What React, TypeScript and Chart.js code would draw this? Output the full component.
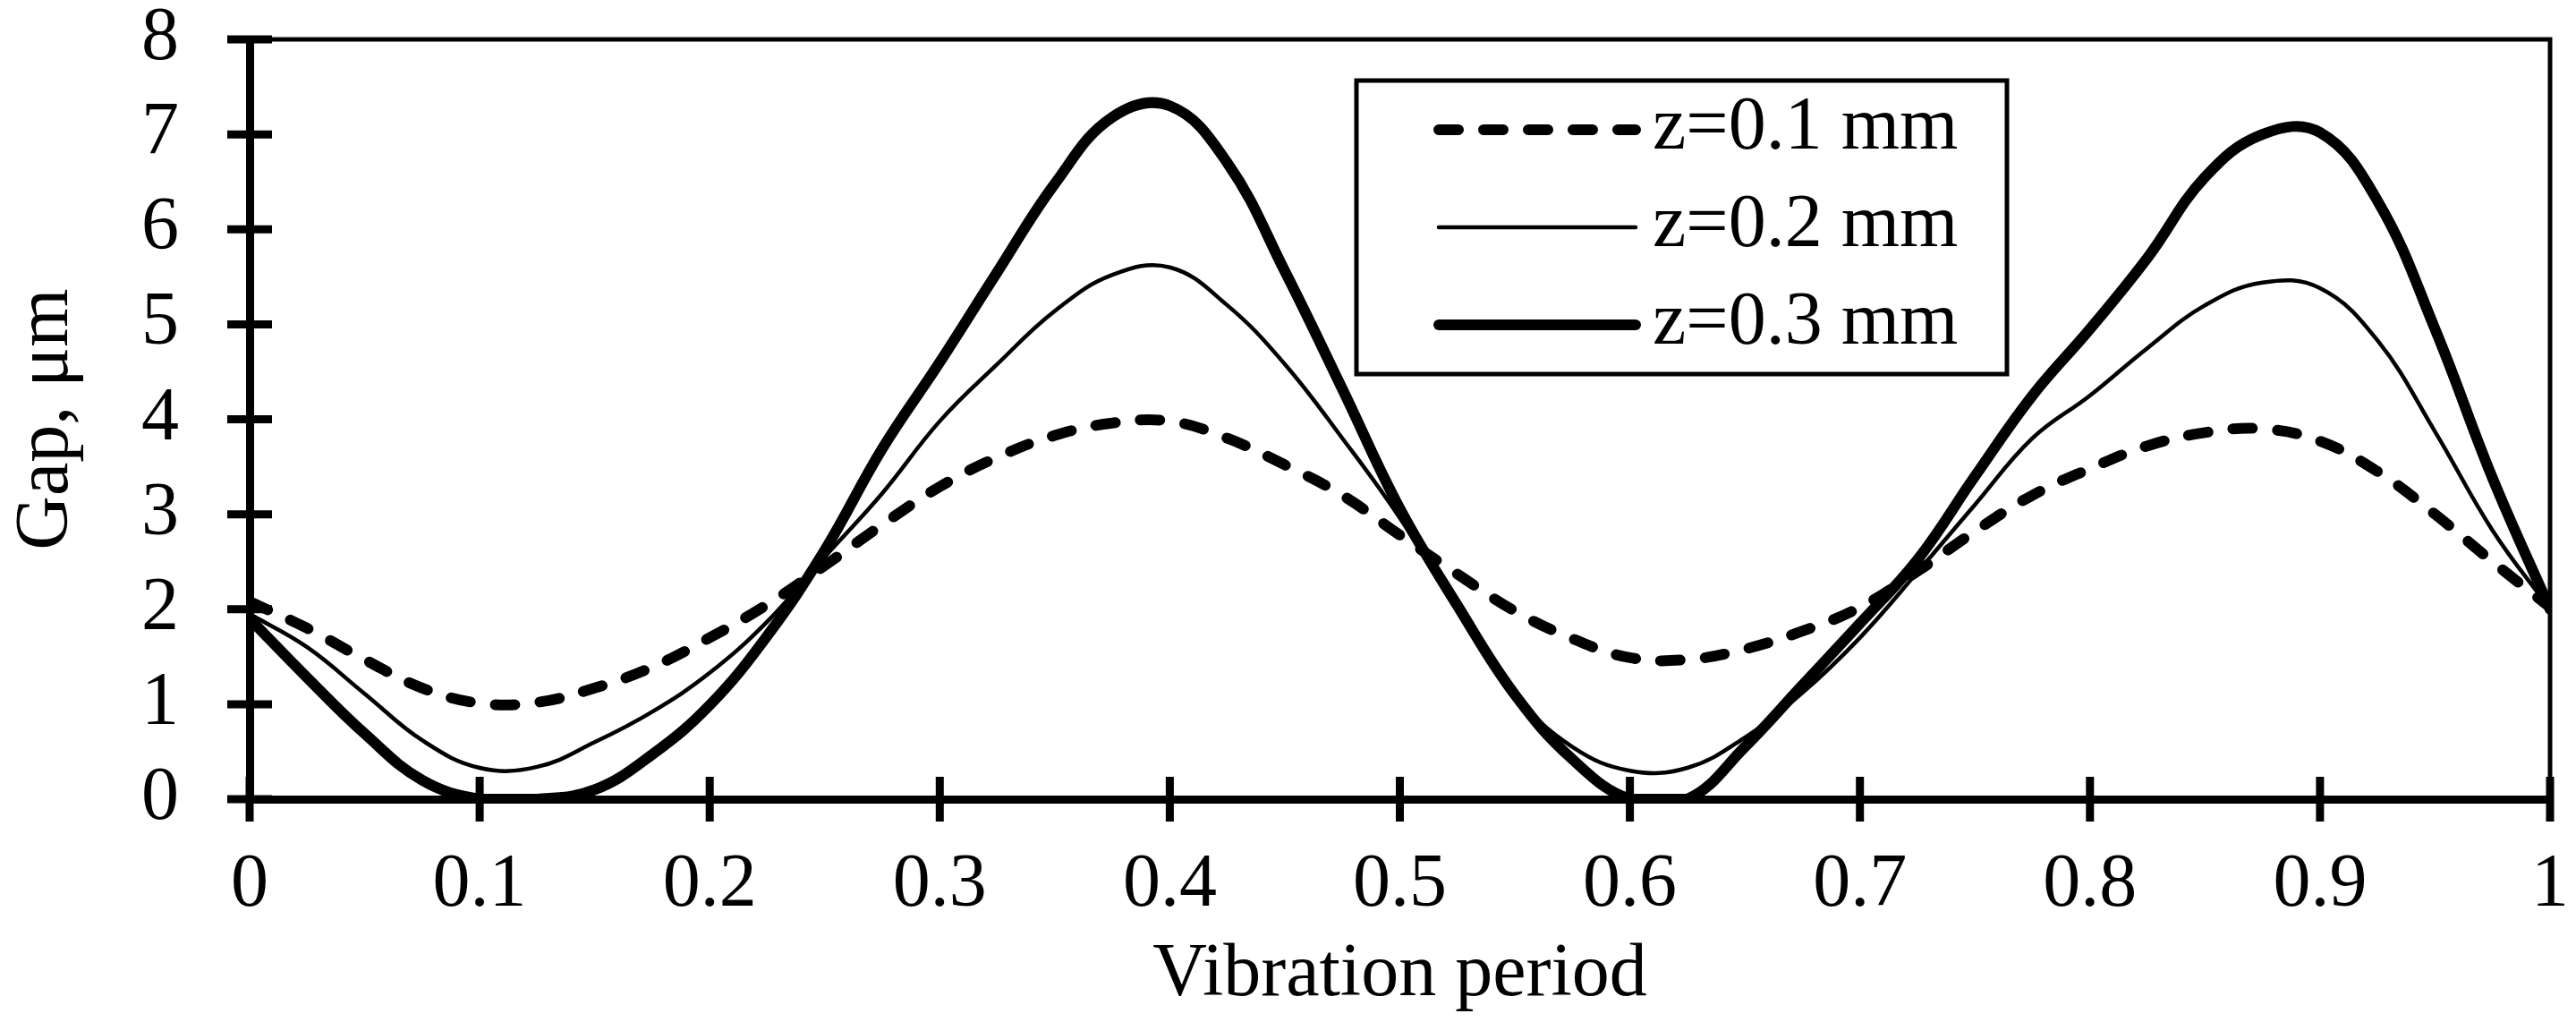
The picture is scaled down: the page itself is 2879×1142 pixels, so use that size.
import { useEffect, useRef } from 'react'
import { Chart, registerables } from 'chart.js'

Chart.register(...registerables)

const FONT = "'Liberation Serif', 'Times New Roman', serif"

// vibration period (fraction of one cycle)
const periodValues = [
  0, 0.025, 0.05, 0.075, 0.1, 0.125, 0.15, 0.175, 0.2, 0.225, 0.25, 0.275, 0.3, 0.325, 0.35, 0.375, 0.4, 0.425, 0.45,
  0.475, 0.5, 0.525, 0.55, 0.575, 0.6, 0.625, 0.65, 0.675, 0.7, 0.725, 0.75, 0.775, 0.8, 0.825, 0.85, 0.875, 0.9, 0.925,
  0.95, 0.975, 1,
]

// gap, um
const gapZ01 = [
  2.08, 1.8, 1.47, 1.17, 1.01, 1.02, 1.17, 1.39, 1.7, 2.05, 2.46, 2.89, 3.29, 3.6, 3.83, 3.96, 3.98, 3.8, 3.52, 3.2,
  2.78, 2.37, 1.98, 1.69, 1.49, 1.47, 1.58, 1.77, 2.02, 2.4, 2.82, 3.2, 3.48, 3.72, 3.86, 3.9, 3.77, 3.45, 3.0, 2.5,
  2.02,
]
const gapZ02 = [
  1.95, 1.6, 1.11, 0.62, 0.33, 0.34, 0.6, 0.92, 1.33, 1.87, 2.55, 3.22, 3.98, 4.58, 5.14, 5.52, 5.6, 5.2, 4.58, 3.8,
  2.96, 1.98, 1.1, 0.55, 0.3, 0.33, 0.65, 1.12, 1.7, 2.39, 3.1, 3.8, 4.25, 4.75, 5.2, 5.44, 5.38, 4.83, 3.87, 2.83, 2.0,
]
const gapZ03 = [
  1.9, 1.28, 0.69, 0.2, 0, 0, 0.1, 0.47, 0.99, 1.72, 2.62, 3.69, 4.6, 5.55, 6.48, 7.18, 7.3, 6.7, 5.56, 4.32, 3.06,
  2.04, 1.1, 0.42, 0, 0, 0.55, 1.2, 1.85, 2.52, 3.4, 4.25, 4.95, 5.7, 6.55, 7.0, 7.02, 6.3, 4.95, 3.38, 2.0,
]

const seriesLabels = ['z=0.1 mm', 'z=0.2 mm', 'z=0.3 mm']
const xTickLabels = ['0', '0.1', '0.2', '0.3', '0.4', '0.5', '0.6', '0.7', '0.8', '0.9', '1']
const yTickLabels = ['0', '1', '2', '3', '4', '5', '6', '7', '8']

const toPoints = (ys: number[]) => periodValues.map((x, i) => ({ x, y: ys[i] }))

// top/right frame and tick marks crossing the axes
const frameTicks = {
  id: 'frameTicks',
  beforeDatasetsDraw(chart: Chart) {
    const { ctx, chartArea: a, scales } = chart
    ctx.save()
    ctx.strokeStyle = '#000'
    ctx.lineWidth = 5
    ctx.beginPath()
    ctx.moveTo(a.left, a.top)
    ctx.lineTo(a.right, a.top)
    ctx.lineTo(a.right, a.bottom)
    ctx.stroke()
    ctx.lineWidth = 9
    ctx.beginPath()
    scales.x.ticks.forEach((t) => {
      const px = scales.x.getPixelForValue(t.value)
      ctx.moveTo(px, a.bottom - 25)
      ctx.lineTo(px, a.bottom + 25)
    })
    scales.y.ticks.forEach((t) => {
      const py = scales.y.getPixelForValue(t.value)
      ctx.moveTo(a.left - 25, py)
      ctx.lineTo(a.left + 25, py)
    })
    ctx.stroke()
    ctx.restore()
  },
}

const boxLegend = {
  id: 'boxLegend',
  afterDatasetsDraw(chart: Chart) {
    const { ctx, chartArea: a } = chart
    const left = a.left + 1237
    const top = a.top + 46
    ctx.save()
    ctx.fillStyle = '#fff'
    ctx.fillRect(left, top, 727, 328)
    ctx.strokeStyle = '#000'
    ctx.lineWidth = 5
    ctx.strokeRect(left, top, 727, 328)
    chart.data.datasets.forEach((ds: any, i) => {
      const y = top + 55 + i * 109
      ctx.beginPath()
      ctx.setLineDash(ds.borderDash || [])
      ctx.lineCap = 'round'
      ctx.lineWidth = ds.borderWidth
      ctx.moveTo(left + 92, y)
      ctx.lineTo(left + 312, y)
      ctx.stroke()
      ctx.setLineDash([])
      ctx.font = `84px ${FONT}`
      ctx.textBaseline = 'middle'
      ctx.textAlign = 'left'
      ctx.fillStyle = '#000'
      ctx.fillText(ds.label, left + 331, y - 1)
    })
    ctx.restore()
  },
}

export default function App() {
  const canvasRef = useRef<HTMLCanvasElement>(null)
  const chartRef = useRef<Chart | null>(null)

  useEffect(() => {
    document.body.style.margin = '0'
    if (!canvasRef.current) return
    if (chartRef.current) chartRef.current.destroy()

    const common = {
      borderColor: '#000',
      backgroundColor: '#000',
      pointRadius: 0,
      fill: false,
      tension: 0.4,
      borderCapStyle: 'round' as const,
      borderJoinStyle: 'round' as const,
    }

    chartRef.current = new Chart(canvasRef.current, {
      type: 'line',
      data: {
        datasets: [
          { ...common, label: seriesLabels[0], data: toPoints(gapZ01), borderWidth: 12, borderDash: [22, 28] },
          { ...common, label: seriesLabels[1], data: toPoints(gapZ02), borderWidth: 4.5 },
          { ...common, label: seriesLabels[2], data: toPoints(gapZ03), borderWidth: 12 },
        ],
      },
      options: {
        responsive: false,
        animation: false,
        devicePixelRatio: 1,
        layout: { padding: { top: 44, right: 29, left: 0, bottom: 0 } },
        plugins: { legend: { display: false }, tooltip: { enabled: false } },
        scales: {
          x: {
            type: 'linear',
            min: 0,
            max: 1,
            grid: { display: false, drawTicks: false },
            border: { display: true, color: '#000', width: 9 },
            ticks: {
              stepSize: 0.1,
              autoSkip: false,
              maxRotation: 0,
              padding: 47,
              color: '#000',
              font: { family: FONT, size: 84 },
              callback: (_v, i) => xTickLabels[i],
            },
            title: {
              display: true,
              text: 'Vibration period',
              color: '#000',
              font: { family: FONT, size: 84 },
              padding: { top: 0, bottom: 2 },
            },
            afterFit: (s: any) => {
              s.height = 249
              s.paddingLeft = 0
              s.paddingRight = 0
            },
          },
          y: {
            min: 0,
            max: 8,
            grid: { display: false, drawTicks: false },
            border: { display: true, color: '#000', width: 9 },
            ticks: {
              stepSize: 1,
              padding: 79,
              color: '#000',
              font: { family: FONT, size: 84 },
              callback: (_v, i) => yTickLabels[i],
            },
            title: {
              display: true,
              text: 'Gap, μm',
              color: '#000',
              font: { family: FONT, size: 84 },
              padding: { top: 3, bottom: 0 },
            },
            afterFit: (s: any) => {
              s.width = 279
              s.paddingTop = 0
              s.paddingBottom = 0
            },
          },
        },
      },
      plugins: [frameTicks, boxLegend],
    })

    return () => {
      if (chartRef.current) {
        chartRef.current.destroy()
        chartRef.current = null
      }
    }
  }, [])

  return (
    <div style={{ width: 2879, height: 1142, background: '#fff', overflow: 'hidden' }}>
      <canvas ref={canvasRef} width={2879} height={1142} />
    </div>
  )
}
